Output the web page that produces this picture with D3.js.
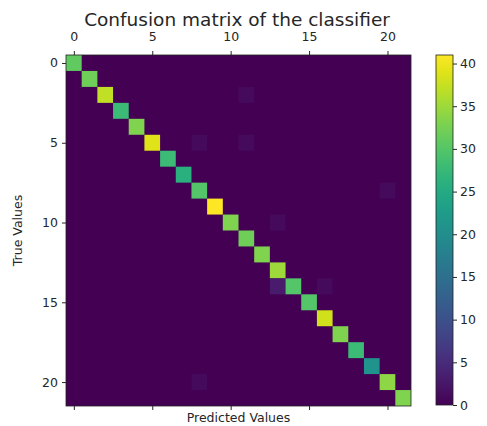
<!DOCTYPE html>
<html>
<head>
<meta charset="utf-8">
<script src="https://cdn.jsdelivr.net/npm/d3@7"></script>
<style>
  body { margin: 0; background: #fff; }
  text { font-family: "DejaVu Sans", sans-serif; fill: #262626; }
</style>
</head>
<body>
<div id="chart"></div>
<script>
// diagonal counts (correct predictions) per class
var diagonal = [31, 32, 37, 28, 33, 39, 28, 26, 30, 41, 33, 32, 33, 35, 30, 30, 38, 33, 28, 21, 34, 33];
// off-diagonal misclassifications: [true, predicted, count]
var offDiagonal = [[2, 11, 1], [5, 8, 1], [5, 11, 1], [8, 20, 1], [10, 13, 1], [14, 13, 3], [14, 16, 1], [20, 8, 1]];
var tickValues = [0, 5, 10, 15, 20];
var colorTicks = [0, 5, 10, 15, 20, 25, 30, 35, 40];

var n = diagonal.length;
var cells = [];
for (var r = 0; r < n; r++) {
  for (var c = 0; c < n; c++) {
    cells.push({ row: r, col: c, value: r === c ? diagonal[r] : 0 });
  }
}
offDiagonal.forEach(function(d) {
  cells[d[0] * n + d[1]].value = d[2];
});

var width = 487, height = 426;
var plot = { left: 66, top: 55, width: 345, height: 351 };
var maxVal = d3.max(cells, function(d) { return d.value; });

var svg = d3.select('#chart').append('svg').attr('width', width).attr('height', height);

var x = d3.scaleBand().domain(d3.range(n)).range([plot.left, plot.left + plot.width]);
var y = d3.scaleBand().domain(d3.range(n)).range([plot.top, plot.top + plot.height]);
var color = d3.scaleSequential(d3.interpolateViridis).domain([0, maxVal]);

svg.append('rect').attr('x', plot.left).attr('y', plot.top)
  .attr('width', plot.width).attr('height', plot.height).attr('fill', color(0));

svg.append('g').selectAll('rect').data(cells.filter(function(d) { return d.value > 0; })).enter().append('rect')
  .attr('x', function(d) { return x(d.col); })
  .attr('y', function(d) { return y(d.row); })
  .attr('width', x.bandwidth())
  .attr('height', y.bandwidth())
  .attr('fill', function(d) { return color(d.value); });

svg.append('rect').attr('x', plot.left).attr('y', plot.top)
  .attr('width', plot.width).attr('height', plot.height)
  .attr('fill', 'none').attr('stroke', '#222').attr('stroke-width', 0.8);

var xc = function(v) { return x(v) + x.bandwidth() / 2; };
var yc = function(v) { return y(v) + y.bandwidth() / 2; };
var xLin = d3.scaleLinear().domain([0, n - 1]).range([xc(0), xc(n - 1)]);
var yLin = d3.scaleLinear().domain([0, n - 1]).range([yc(0), yc(n - 1)]);

svg.append('g').attr('transform', 'translate(0,' + plot.top + ')')
  .call(d3.axisTop(xLin).tickValues(tickValues).tickSize(4).tickPadding(10));
svg.append('g').attr('transform', 'translate(0,' + (plot.top + plot.height) + ')')
  .call(d3.axisBottom(xLin).tickValues(tickValues).tickSize(4).tickFormat(''));
svg.append('g').attr('transform', 'translate(' + plot.left + ',0)')
  .call(d3.axisLeft(yLin).tickValues(tickValues).tickSize(4).tickPadding(4));

// colorbar
var cb = { left: 436, top: 55, width: 17, height: 350 };
var cScale = d3.scaleLinear().domain([0, maxVal]).range([cb.top + cb.height, cb.top]);
var grad = svg.append('defs').append('linearGradient').attr('id', 'cbgrad')
  .attr('x1', 0).attr('y1', 1).attr('x2', 0).attr('y2', 0);
d3.range(0, 1.001, 0.05).forEach(function(t) {
  grad.append('stop').attr('offset', t).attr('stop-color', d3.interpolateViridis(t));
});
svg.append('rect').attr('x', cb.left).attr('y', cb.top).attr('width', cb.width).attr('height', cb.height)
  .attr('fill', 'url(#cbgrad)').attr('stroke', '#222').attr('stroke-width', 0.8);
svg.append('g').attr('transform', 'translate(' + (cb.left + cb.width) + ',0)')
  .call(d3.axisRight(cScale).tickValues(colorTicks).tickSize(4).tickPadding(3));

svg.selectAll('.tick text').attr('font-size', 12.5).attr('font-family', 'DejaVu Sans').attr('fill', '#262626');
svg.selectAll('.tick line').attr('stroke', '#262626');
svg.selectAll('.domain').attr('stroke', 'none');

svg.append('text').attr('x', 237).attr('y', 26).attr('text-anchor', 'middle')
  .attr('font-size', 18.5).text('Confusion matrix of the classifier');
svg.append('text').attr('x', plot.left + plot.width / 2).attr('y', 422).attr('text-anchor', 'middle')
  .attr('font-size', 12.5).text('Predicted Values');
svg.append('text').attr('transform', 'translate(22,' + (plot.top + plot.height / 2) + ') rotate(-90)')
  .attr('text-anchor', 'middle').attr('font-size', 12.5).text('True Values');
</script>
</body>
</html>
